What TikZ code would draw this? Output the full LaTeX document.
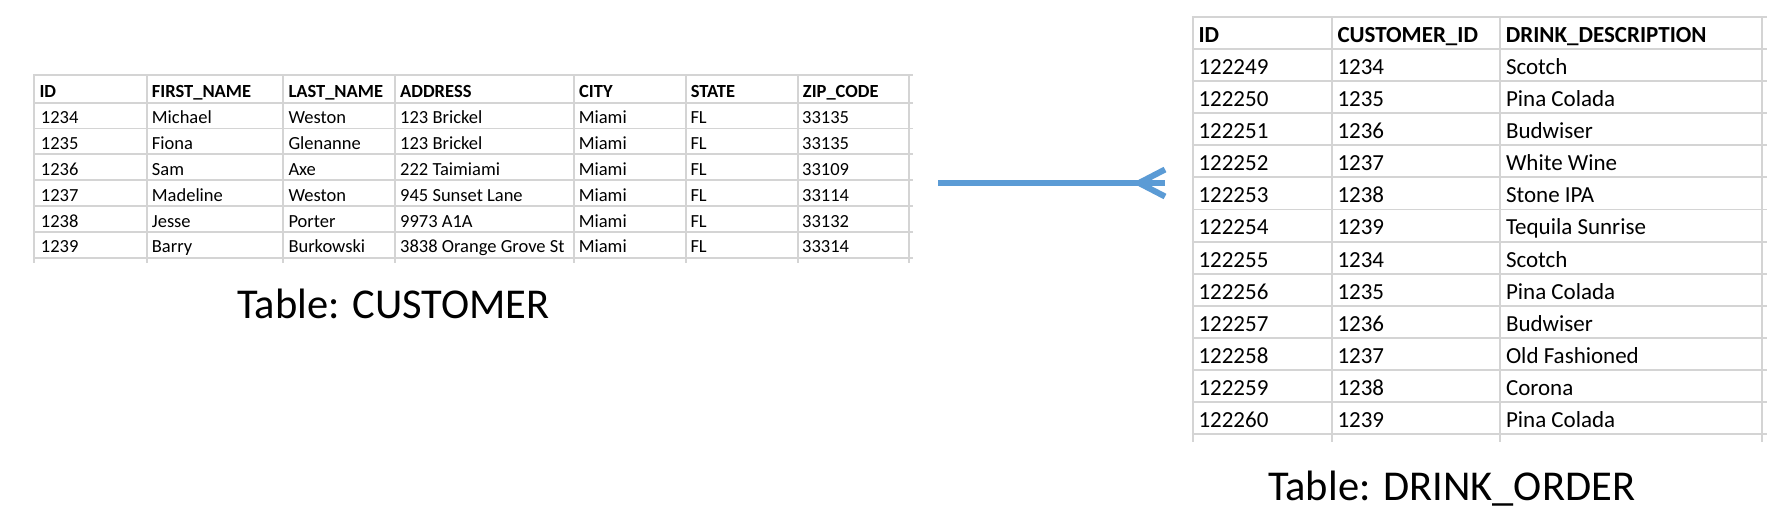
\documentclass[tikz,border=0pt]{standalone}
\usepackage{fontspec}
\setmainfont{Carlito}
\usepackage{xcolor}
\usetikzlibrary{positioning}
\definecolor{gridgray}{HTML}{D4D4D4}
\definecolor{linkblue}{HTML}{5B9BD5}
\tikzset{
  gridline/.style={draw=gridgray, line width=1.8pt},
  smallcell/.style={anchor=base west, inner sep=0pt, font=\fontsize{18.5}{21}\selectfont},
  smallhead/.style={smallcell, font=\fontsize{18.5}{21}\selectfont\bfseries},
  bigcell/.style={anchor=base west, inner sep=0pt, font=\fontsize{23}{27}\selectfont},
  bighead/.style={bigcell, font=\fontsize{23}{27}\selectfont\bfseries},
  caption/.style={anchor=base west, inner sep=0pt, font=\fontsize{42.5}{48}\selectfont},
  relline/.style={draw=linkblue, line width=6pt, line cap=butt}
}

\begin{document}
\begin{tikzpicture}[x=1pt, y=-1pt]
  \useasboundingbox[fill=white] (0,0) rectangle (1783,530);

  % CUSTOMER grid
  \foreach \x in {34.3,146.7,283.3,395,574,685.7,797.7,909.3}
    \draw[gridline] (\x,75) -- (\x,263);
  \draw[gridline] (33.3,75) -- (913,75);
  \foreach \k in {0,...,6}
    \draw[gridline] (33.3,{102.7+25.83*\k}) -- (913,{102.7+25.83*\k});

  % CUSTOMER header
  \foreach \x/\t [count=\i] in {34.3/ID,146.7/FIRST\_NAME,283.3/LAST\_NAME,395/ADDRESS,574/CITY,685.7/STATE,797.7/ZIP\_CODE}
    \node[smallhead] (ch-\i) at (\x+5,97.2) {\t};

  % CUSTOMER rows
  \foreach \a/\b/\c/\d/\e/\f/\g [count=\r] in {
      1234/Michael/Weston/123 Brickel/Miami/FL/33135,
      1235/Fiona/Glenanne/123 Brickel/Miami/FL/33135,
      1236/Sam/Axe/222 Taimiami/Miami/FL/33109,
      1237/Madeline/Weston/945 Sunset Lane/Miami/FL/33114,
      1238/Jesse/Porter/9973 A1A/Miami/FL/33132,
      1239/Barry/Burkowski/3838 Orange Grove St/Miami/FL/33314}{
    \pgfmathsetmacro\yb{102.7+25.83*\r-4.8}
    \node[smallcell] (c-\r-1) at (40.7,\yb) {\a};
    \node[smallcell] (c-\r-2) at (151.7,\yb) {\b};
    \node[smallcell] (c-\r-3) at (288.3,\yb) {\c};
    \node[smallcell] (c-\r-4) at (400,\yb) {\d};
    \node[smallcell] (c-\r-5) at (578.6,\yb) {\e};
    \node[smallcell] (c-\r-6) at (690.3,\yb) {\f};
    \node[smallcell] (c-\r-7) at (802,\yb) {\g};
  }

  % DRINK_ORDER grid
  \foreach \x in {1192.7,1331.7,1500,1762}
    \draw[gridline] (\x,16.7) -- (\x,441.7);
  \foreach \k in {0,...,13}
    \draw[gridline] (1191.7,{16.7+32.13*\k}) -- (1767,{16.7+32.13*\k});

  % DRINK_ORDER header
  \foreach \x/\t [count=\i] in {1192.7/ID,1331.7/CUSTOMER\_ID,1500/DRINK\_DESCRIPTION}
    \node[bighead] (dh-\i) at (\x+5.6,42.1) {\t};

  % DRINK_ORDER rows
  \foreach \a/\b/\c [count=\r] in {
      122249/1234/Scotch, 122250/1235/Pina Colada, 122251/1236/Budwiser,
      122252/1237/White Wine, 122253/1238/Stone IPA, 122254/1239/Tequila Sunrise,
      122255/1234/Scotch, 122256/1235/Pina Colada, 122257/1236/Budwiser,
      122258/1237/Old Fashioned, 122259/1238/Corona, 122260/1239/Pina Colada}{
    \pgfmathsetmacro\yb{16.7+32.13*(\r+1)-6.7}
    \node[bigcell] (d-\r-1) at (1198.3,\yb) {\a};
    \node[bigcell] (d-\r-2) at (1337.3,\yb) {\b};
    \node[bigcell] (d-\r-3) at (1505.8,\yb) {\c};
  }

  % Captions
  \node[caption] (custcap) at (237.3,318.3) {Table: CUSTOMER};
  \node[caption] (drinkcap) at (1268,500) {Table: DRINK\_ORDER};

  % One-to-many link
  \coordinate (custend) at (938,183);
  \coordinate (drinkend) at (1165,183);
  \coordinate (fork) at (1139,183);
  \draw[relline] (custend) -- (drinkend);
  \draw[relline] (fork) -- ++(26,-13.5);
  \draw[relline] (fork) -- ++(26,13.5);
\end{tikzpicture}
\end{document}
